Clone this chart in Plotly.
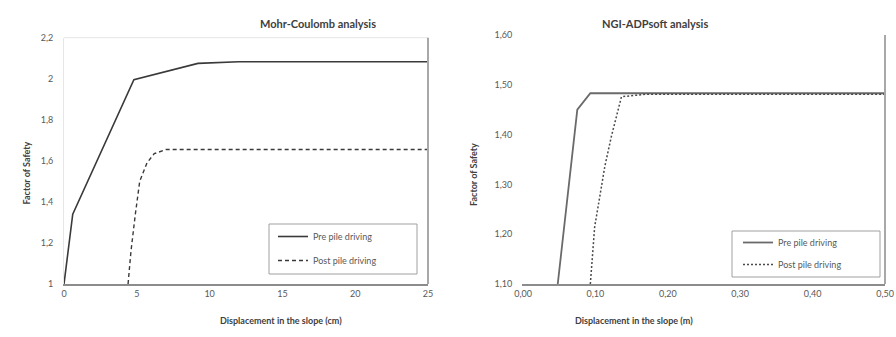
import plotly.graph_objects as go

# Mohr-Coulomb analysis (displacement in cm)
mc_pre_x = [0, 0.6, 4.8, 7.0, 9.2, 12, 25]
mc_pre_y = [1.0, 1.34, 1.995, 2.035, 2.075, 2.083, 2.083]
mc_post_x = [4.4, 4.6, 4.9, 5.2, 5.7, 6.2, 7.0, 25]
mc_post_y = [1.0, 1.16, 1.34, 1.50, 1.59, 1.635, 1.655, 1.655]

# NGI-ADPsoft analysis (displacement in m)
ngi_pre_x = [0.048, 0.075, 0.093, 0.5]
ngi_pre_y = [1.10, 1.45, 1.483, 1.483]
ngi_post_x = [0.093, 0.099, 0.106, 0.113, 0.122, 0.129, 0.136, 0.17, 0.5]
ngi_post_y = [1.10, 1.215, 1.275, 1.336, 1.396, 1.436, 1.476, 1.481, 1.481]

series_names = ["Pre pile driving", "Post pile driving"]
titles = ["Mohr-Coulomb analysis", "NGI-ADPsoft analysis"]
x_titles = ["Displacement in the slope (cm)", "Displacement in the slope (m)"]
y_title = "Factor of Safety"

W, H = 896, 337
FONT = "Lato, 'Open Sans', sans-serif"
TXT = "#404040"
TICK = "#595959"

def px(v):
    return v / W

def py(v):
    return (H - v) / H

fig = go.Figure()
fig.add_trace(go.Scatter(x=mc_pre_x, y=mc_pre_y, mode="lines", name=series_names[0],
                         line=dict(color="#3a3a3a", width=1.6), xaxis="x", yaxis="y",
                         legend="legend", legendgroup="a"))
fig.add_trace(go.Scatter(x=mc_post_x, y=mc_post_y, mode="lines", name=series_names[1],
                         line=dict(color="#3a3a3a", width=1.4, dash="4px,3px"), xaxis="x", yaxis="y",
                         legend="legend", legendgroup="b"))
fig.add_trace(go.Scatter(x=ngi_pre_x, y=ngi_pre_y, mode="lines", name=series_names[0],
                         line=dict(color="#6a6a6a", width=1.8), xaxis="x2", yaxis="y2",
                         legend="legend2", legendgroup="c"))
fig.add_trace(go.Scatter(x=ngi_post_x, y=ngi_post_y, mode="lines", name=series_names[1],
                         line=dict(color="#4a4a4a", width=1.5, dash="2px,2px"), xaxis="x2", yaxis="y2",
                         legend="legend2", legendgroup="d"))

axis_common = dict(showgrid=False, zeroline=False, ticks="", showline=True, automargin=False,
                   tickfont=dict(family=FONT, size=9, color=TICK), fixedrange=True)

fig.update_layout(
    width=W, height=H,
    margin=dict(l=0, r=0, t=0, b=0, autoexpand=False),
    paper_bgcolor="white", plot_bgcolor="white",
    separators=",.",
    showlegend=True,
    xaxis=dict(domain=[px(64), px(428)], range=[0, 25], tickvals=[0, 5, 10, 15, 20, 25],
               linecolor="#8c8c8c", linewidth=1.5, anchor="y", **axis_common),
    yaxis=dict(domain=[py(284), py(37.7)], range=[1, 2.2], tickvals=[1, 1.2, 1.4, 1.6, 1.8, 2, 2.2],
               linecolor="#e6e6e6", linewidth=1, anchor="x", ticklabelstandoff=8, **axis_common),
    xaxis2=dict(domain=[px(523), px(885)], range=[0, 0.5], tickvals=[0, 0.1, 0.2, 0.3, 0.4, 0.5],
                tickformat=".2f", linecolor="#8c8c8c", linewidth=1.5, anchor="y2", **axis_common),
    yaxis2=dict(domain=[py(284), py(35)], range=[1.1, 1.6], tickvals=[1.1, 1.2, 1.3, 1.4, 1.5, 1.6],
                tickformat=".2f", linecolor="white", linewidth=0, anchor="x2", ticklabelstandoff=8,
                **axis_common),
    legend=dict(x=px(273), y=py(222), xanchor="left", yanchor="top",
                borderwidth=0, bgcolor="rgba(0,0,0,0)",
                font=dict(family=FONT, size=9, color=TICK), itemwidth=30,
                traceorder="grouped", tracegroupgap=5),
    legend2=dict(x=px(738), y=py(228), xanchor="left", yanchor="top",
                 borderwidth=0, bgcolor="rgba(0,0,0,0)",
                 font=dict(family=FONT, size=9, color=TICK), itemwidth=30,
                 traceorder="grouped", tracegroupgap=3),
)

# legend frames
fig.add_shape(type="rect", xref="paper", yref="paper", x0=px(269), x1=px(417), y0=py(274), y1=py(224),
              line=dict(color="#a0a0a0", width=1), fillcolor="rgba(0,0,0,0)", layer="above")
fig.add_shape(type="rect", xref="paper", yref="paper", x0=px(732), x1=px(880), y0=py(277), y1=py(231),
              line=dict(color="#a0a0a0", width=1), fillcolor="rgba(0,0,0,0)", layer="above")

# plot-area borders
fig.add_shape(type="line", xref="x domain", yref="y domain", x0=0, x1=1, y0=1, y1=1,
              line=dict(color="#e6e6e6", width=1))
fig.add_shape(type="line", xref="x domain", yref="y domain", x0=1, x1=1, y0=0, y1=1,
              line=dict(color="#a8a8a8", width=2))
fig.add_shape(type="line", xref="x2 domain", yref="y2 domain", x0=1, x1=1, y0=0, y1=1,
              line=dict(color="#a8a8a8", width=2))

# titles
for t, cx in zip(titles, [258, 710]):
    fig.add_annotation(text="<b>%s</b>" % t, x=px(cx), y=py(15), xref="paper", yref="paper",
                       showarrow=False, font=dict(family=FONT, size=11, color=TXT))
for t, cx in zip(x_titles, [218, 695]):
    fig.add_annotation(text="<b>%s</b>" % t, x=px(cx), y=py(328), xref="paper", yref="paper",
                       showarrow=False, font=dict(family=FONT, size=9, color=TXT))
for cx, cy in [(18, 173), (473, 175)]:
    fig.add_annotation(text="<b>%s</b>" % y_title, x=px(cx), y=py(cy), xref="paper", yref="paper",
                       showarrow=False, textangle=-90, font=dict(family=FONT, size=9, color=TXT))

fig.write_html("out.html", config={"displayModeBar": False},
               post_script="document.body.style.margin='0';document.body.style.overflow='hidden';")
